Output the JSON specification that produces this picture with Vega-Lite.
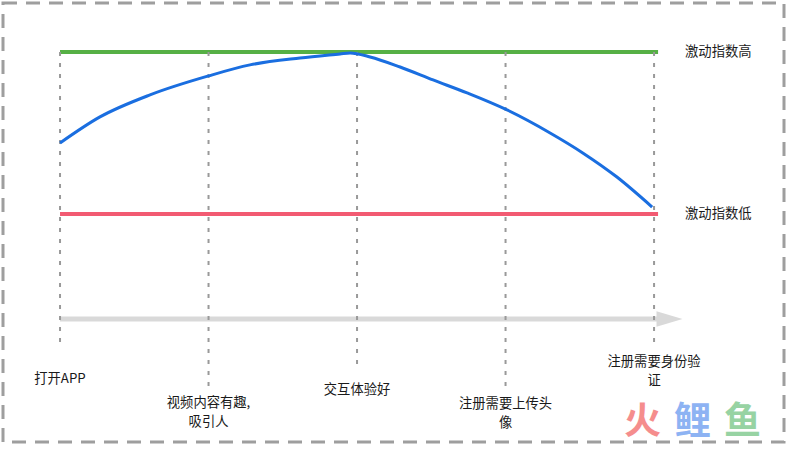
{
  "$schema": "https://vega.github.io/schema/vega-lite/v6.json",
  "width": 781,
  "height": 439,
  "autosize": {"type": "none"},
  "padding": {"left": 3, "top": 3, "right": 5, "bottom": 7},
  "background": "white",
  "view": {"stroke": "#9e9e9e", "strokeWidth": 3, "strokeDash": [14, 9]},
  "datasets": {
    "levels": [
      {"name": "激动指数高", "score": 100, "start": 0, "end": 4.027},
      {"name": "激动指数低", "score": 0, "start": 0, "end": 4.027}
    ],
    "axisArrow": [
      {"start": 0, "end": 4.04, "score": -64.8, "tip": 4.104}
    ],
    "steps": [
      {"step": 0, "top": 100, "bottom": -82.7, "label": "打开APP", "labelScore": -101.9},
      {"step": 1, "top": 100, "bottom": -108.6, "label": "视频内容有趣,\n吸引人", "labelScore": -116.9},
      {"step": 2, "top": 100, "bottom": -93.2, "label": "交互体验好", "labelScore": -108.6},
      {"step": 3, "top": 100, "bottom": -108.6, "label": "注册需要上传头\n像", "labelScore": -117.3},
      {"step": 4, "top": 100, "bottom": -82.0, "label": "注册需要身份验\n证", "labelScore": -91.2}
    ],
    "curve": [
      {"t": 0, "score": 43.8},
      {"t": 0.269, "score": 59.9},
      {"t": 0.606, "score": 73.5},
      {"t": 1.0, "score": 85.2},
      {"t": 1.279, "score": 92.0},
      {"t": 1.616, "score": 96.3},
      {"t": 1.886, "score": 98.8},
      {"t": 1.953, "score": 99.4},
      {"t": 2.088, "score": 96.9},
      {"t": 2.29, "score": 90.7},
      {"t": 2.512, "score": 82.7},
      {"t": 2.741, "score": 74.7},
      {"t": 3.01, "score": 64.2},
      {"t": 3.3, "score": 50.0},
      {"t": 3.52, "score": 37.7},
      {"t": 3.75, "score": 22.8},
      {"t": 3.987, "score": 4.3}
    ],
    "watermark": [
      {"ch": "火", "pos": 3.923, "score": -129.0},
      {"ch": "鲤", "pos": 4.259, "score": -129.0},
      {"ch": "鱼", "pos": 4.596, "score": -129.0}
    ]
  },
  "layer": [
    {
      "data": {"name": "levels"},
      "mark": {"type": "rule", "strokeWidth": 4},
      "encoding": {
        "x": {"field": "start", "type": "quantitative", "axis": null, "scale": {"domain": [-0.384, 4.875], "nice": false, "zero": false}},
        "x2": {"field": "end"},
        "y": {"field": "score", "type": "quantitative", "axis": null, "scale": {"domain": [-140.7, 130.2], "nice": false, "zero": false}},
        "color": {"field": "name", "type": "nominal", "legend": null, "scale": {"domain": ["激动指数高", "激动指数低", "火", "鲤", "鱼"], "range": ["#56b045", "#f25a72", "#f47a7a", "#7aa6f2", "#86cc93"]}}
      }
    },
    {
      "data": {"name": "axisArrow"},
      "mark": {"type": "rule", "strokeWidth": 5, "color": "#d9d9d9"},
      "encoding": {
        "x": {"field": "start", "type": "quantitative", "axis": null, "scale": {"domain": [-0.384, 4.875], "nice": false, "zero": false}},
        "x2": {"field": "end"},
        "y": {"field": "score", "type": "quantitative", "axis": null, "scale": {"domain": [-140.7, 130.2], "nice": false, "zero": false}}
      }
    },
    {
      "data": {"name": "axisArrow"},
      "mark": {"type": "point", "shape": "M-1,-0.6L1,0L-1,0.6Z", "size": 676, "filled": true, "color": "#d9d9d9", "opacity": 1},
      "encoding": {
        "x": {"field": "tip", "type": "quantitative", "axis": null, "scale": {"domain": [-0.384, 4.875], "nice": false, "zero": false}},
        "y": {"field": "score", "type": "quantitative", "axis": null, "scale": {"domain": [-140.7, 130.2], "nice": false, "zero": false}}
      }
    },
    {
      "data": {"name": "steps"},
      "mark": {"type": "rule", "strokeWidth": 2, "color": "#999999", "strokeDash": [4, 7]},
      "encoding": {
        "x": {"field": "step", "type": "quantitative", "axis": null, "scale": {"domain": [-0.384, 4.875], "nice": false, "zero": false}},
        "y": {"field": "top", "type": "quantitative", "axis": null, "scale": {"domain": [-140.7, 130.2], "nice": false, "zero": false}},
        "y2": {"field": "bottom"}
      }
    },
    {
      "data": {"name": "curve"},
      "mark": {"type": "line", "interpolate": "monotone", "strokeWidth": 3, "color": "#1a6ee0"},
      "encoding": {
        "x": {"field": "t", "type": "quantitative", "axis": null, "scale": {"domain": [-0.384, 4.875], "nice": false, "zero": false}},
        "y": {"field": "score", "type": "quantitative", "axis": null, "scale": {"domain": [-140.7, 130.2], "nice": false, "zero": false}}
      }
    },
    {
      "data": {"name": "levels"},
      "mark": {"type": "text", "align": "left", "baseline": "middle", "font": "Noto Sans CJK SC", "fontSize": 13.3, "color": "#1a1a1a", "dx": 27},
      "encoding": {
        "x": {"field": "end", "type": "quantitative", "axis": null, "scale": {"domain": [-0.384, 4.875], "nice": false, "zero": false}},
        "y": {"field": "score", "type": "quantitative", "axis": null, "scale": {"domain": [-140.7, 130.2], "nice": false, "zero": false}},
        "text": {"field": "name"}
      }
    },
    {
      "data": {"name": "steps"},
      "mark": {"type": "text", "align": "center", "baseline": "middle", "font": "Noto Sans CJK SC", "fontSize": 13.3, "lineBreak": "\n", "lineHeight": 19, "color": "#1a1a1a"},
      "encoding": {
        "x": {"field": "step", "type": "quantitative", "axis": null, "scale": {"domain": [-0.384, 4.875], "nice": false, "zero": false}},
        "y": {"field": "labelScore", "type": "quantitative", "axis": null, "scale": {"domain": [-140.7, 130.2], "nice": false, "zero": false}},
        "text": {"field": "label"}
      }
    },
    {
      "data": {"name": "watermark"},
      "mark": {"type": "text", "align": "center", "baseline": "middle", "font": "Noto Sans CJK SC", "fontSize": 37, "fontWeight": "bold", "opacity": 0.85},
      "encoding": {
        "x": {"field": "pos", "type": "quantitative", "axis": null, "scale": {"domain": [-0.384, 4.875], "nice": false, "zero": false}},
        "y": {"field": "score", "type": "quantitative", "axis": null, "scale": {"domain": [-140.7, 130.2], "nice": false, "zero": false}},
        "text": {"field": "ch"},
        "color": {"field": "ch", "type": "nominal", "legend": null, "scale": {"domain": ["激动指数高", "激动指数低", "火", "鲤", "鱼"], "range": ["#56b045", "#f25a72", "#f47a7a", "#7aa6f2", "#86cc93"]}}
      }
    }
  ]
}
